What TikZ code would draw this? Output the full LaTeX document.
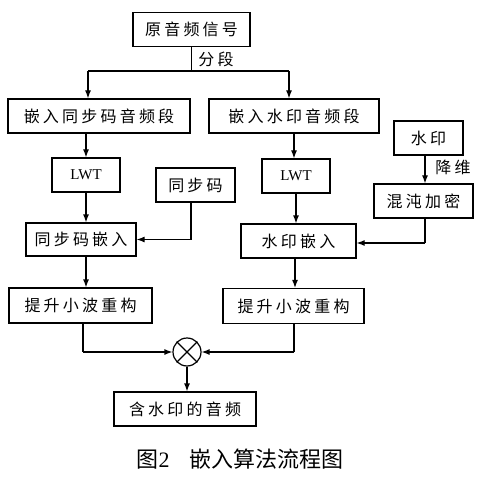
\documentclass[tikz,border=0pt]{standalone}
\usepackage{fontspec}
\setmainfont{Liberation Serif}
\newfontfamily\cjk{Noto Sans CJK SC}[LetterSpace=20]
\newfontfamily\cjkcap{Noto Sans CJK SC}
\usetikzlibrary{arrows.meta}
\begin{document}
\begin{tikzpicture}[x=1pt,y=-1pt,
  box/.style={draw,line width=1.2pt,inner sep=0pt,minimum height=34pt,
    font=\cjk\fontsize{16}{18}\selectfont},
  lwt/.style={draw,line width=1.2pt,inner sep=0pt,minimum height=34pt,minimum width=68pt,
    font=\fontsize{15}{17}\selectfont},
  lbl/.style={inner sep=0pt,font=\cjk\fontsize{16}{18}\selectfont},
  arr/.style={line width=1.2pt,-{Latex[length=8pt,width=6pt]}},
  ln/.style={line width=1.2pt}]
\useasboundingbox (0,0) rectangle (481,478);
\node[box,minimum width=117pt] (orig) at (191.5,29.5) {原音频信号};
\node[lbl] (seg) at (216,59) {分段};
\node[box,minimum width=182pt] (emsync) at (99,116) {嵌入同步码音频段};
\node[box,minimum width=170pt] (emwm) at (294,116) {嵌入水印音频段};
\node[box,minimum width=69pt] (wm) at (428.5,138) {水印};
\node[lwt] (lwt1) at (86,175) {LWT};
\node[box,minimum width=79pt] (sync) at (195.5,185) {同步码};
\node[box,minimum width=110pt,minimum height=33pt] (syncemb) at (81,239.5) {同步码嵌入};
\node[lwt] (lwt2) at (296,176) {LWT};
\node[box,minimum width=115pt] (wmemb) at (298.5,241) {水印嵌入};
\node[box,minimum width=99pt] (chaos) at (423.5,201) {混沌加密};
\node[lbl] (dim) at (453,167) {降维};
\node[box,minimum width=143pt,minimum height=35pt] (lift1) at (80.5,305.5) {提升小波重构};
\node[box,minimum width=141pt,minimum height=35pt] (lift2) at (293.5,306) {提升小波重构};
\node[draw,circle,line width=1.2pt,minimum size=28pt,inner sep=0pt] (mul) at (187,352) {};
\node[box,minimum width=142pt] (out) at (185,409) {含水印的音频};
\node[inner sep=0pt,font=\cjkcap\fontsize{22}{24}\selectfont] (cap) at (240,459)
  {图{\rmfamily 2}\hspace{20pt}嵌入算法流程图};
% cross inside circle
\draw[ln] (mul.north west) -- (mul.south east);
\draw[ln] (mul.north east) -- (mul.south west);
% split
\coordinate (split) at (orig.south |- 0,71);
\coordinate (cL) at (88,71);
\coordinate (cR) at (289,71);
\draw[ln] (orig.south) -- (split);
\draw[ln] (cL) -- (cR);
\draw[arr] (cL) -- (cL |- emsync.north);
\draw[arr] (cR) -- (cR |- emwm.north);
% left column
\draw[arr] (lwt1.north |- emsync.south) -- (lwt1.north);
\draw[arr] (lwt1.south) -- (lwt1.south |- syncemb.north);
\coordinate (sj) at (191,239.5);
\draw[ln] (sync.south -| sj) -- (sj);
\draw[arr] (sj) -- (syncemb.east);
\draw[arr] (lwt1.south |- syncemb.south) -- (lwt1.south |- lift1.north);
% right column
\draw[arr] (emwm.south) -- (emwm.south |- lwt2.north);
\draw[arr] (lwt2.south) -- (lwt2.south |- wmemb.north);
\coordinate (wc) at (425,0);
\draw[arr] (wm.south -| wc) -- (chaos.north -| wc);
\coordinate (cj) at (425,243);
\draw[ln] (chaos.south -| cj) -- (cj);
\draw[arr] (cj) -- (wmemb.east |- cj);
\coordinate (rc) at (295,0);
\draw[arr] (wmemb.south -| rc) -- (lift2.north -| rc);
% merge
\coordinate (mL) at (83,352);
\coordinate (mR) at (294,352);
\draw[ln] (lift1.south -| mL) -- (mL);
\draw[arr] (mL) -- (mul.west);
\draw[ln] (lift2.south -| mR) -- (mR);
\draw[arr] (mR) -- (mul.east);
\draw[arr] (mul.south) -- (mul.south |- out.north);
\end{tikzpicture}
\end{document}
